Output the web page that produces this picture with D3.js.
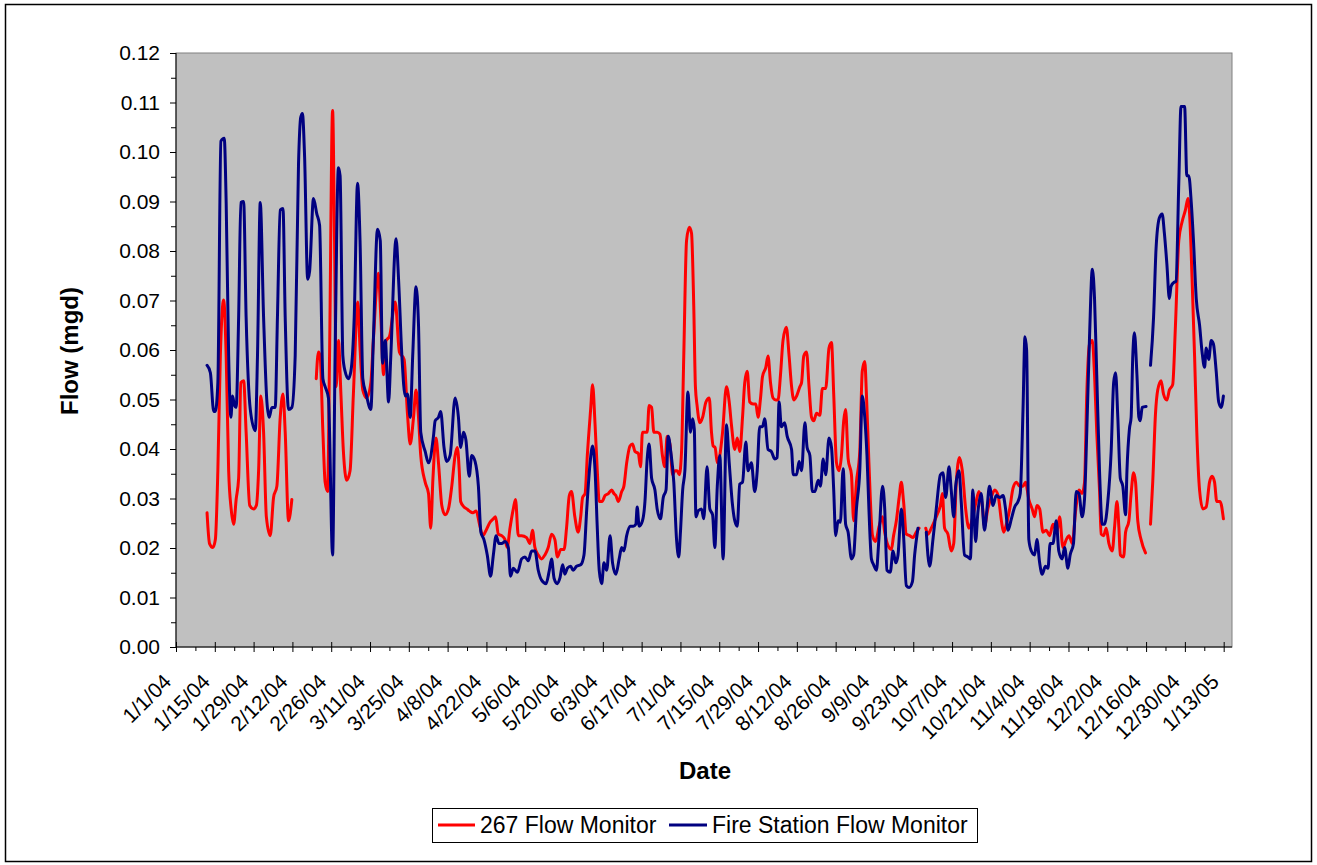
<!DOCTYPE html>
<html><head><meta charset="utf-8">
<script src="https://cdn.jsdelivr.net/npm/d3@7"></script>
<style>body{margin:0;background:#fff} text{font-family:"Liberation Sans",Arial,sans-serif;fill:#000}</style>
</head><body><svg id="c" width="1317" height="865"></svg>
<script>
// ---- data ----
const startDate = "2004-01-01";
const endDate = "2005-01-16";
const yTickValues = [0,0.01,0.02,0.03,0.04,0.05,0.06,0.07,0.08,0.09,0.10,0.11,0.12];
const seriesNames = ["267 Flow Monitor", "Fire Station Flow Monitor"];
const seriesColors = ["#FF0000", "#000080"];
// days since 1/1/04 (null = gap in record)
const m267Day = [11.2,12.1,13.3,14.2,15.1,16.0,17.2,18.1,19.0,19.9,20.8,21.7,22.6,23.4,24.4,25.3,26.6,28.0,29.0,29.8,30.6,31.6,32.6,34.0,35.2,36.4,37.6,38.6,39.4,40.6,41.8,null,
50.6,51.4,52.0,53.0,53.8,54.7,55.4,56.5,57.2,57.8,58.6,59.5,60.4,61.6,62.8,64.0,65.6,66.4,67.4,68.8,70.3,71.2,73.0,73.9,74.9,75.8,77.0,79.1,80.6,82.3,83.5,84.5,85.7,86.6,87.5,88.3,89.9,91.1,91.9,92.7,93.8,94.7,95.9,97.1,98.3,99.5,100.7,101.5,102.2,102.7,103.9,104.9,105.8,107.1,108.3,109.5,110.7,111.9,113.3,114.5,115.3,116.3,117.5,118.7,119.5,120.5,121.7,122.5,123.5,124.7,126.5,127.7,128.6,129.5,130.7,131.9,133.1,134.3,135.5,136.7,137.6,138.8,140.0,
140.9,141.9,142.7,143.9,145.1,146.0,146.7,147.6,148.4,149.6,150.3,151.2,152.0,152.7,153.7,154.8,156.0,157.2,158.0,158.7,159.6,160.8,161.6,162.6,163.8,164.7,165.6,166.8,167.6,168.3,169.2,170.0,170.7,171.6,172.4,173.6,174.6,175.5,176.4,177.2,178.2,179.2,180.0,180.8,181.6,182.4,183.2,184.2,185.2,186.0,186.8,187.4,188.0,189.0,190.0,191.2,192.4,193.2,193.8,194.5,195.3,196.2,197.2,198.6,199.6,200.4,201.6,202.5,203.4,204.4,205.2,206.1,207.0,208.2,209.2,210.0,210.9,211.6,212.8,213.6,214.5,215.4,216.4,217.2,218.1,219.0,220.2,221.2,222.1,222.9,223.9,225.1,225.7,226.5,227.5,228.4,229.3,230.1,231.1,232.3,233.2,
234.4,235.6,236.5,237.3,238.3,239.2,240.1,240.9,241.6,242.5,243.7,244.5,245.5,246.7,247.6,248.5,249.1,250.0,251.3,252.4,253.7,254.9,255.7,256.9,258.1,258.9,259.9,260.9,261.7,262.5,263.5,264.7,265.9,267.1,268.1,null,
270.5,271.3,272.5,273.7,274.9,275.8,276.5,277.3,278.5,279.7,280.6,281.5,282.7,283.7,284.9,286.1,287.5,288.7,289.7,290.9,291.7,292.9,294.1,295.4,296.6,297.8,298.6,299.6,300.8,302.0,303.2,304.4,305.6,306.5,307.7,308.9,309.8,310.6,311.6,312.8,314.0,315.2,316.4,317.8,318.8,320.0,321.2,322.2,323.4,324.5,325.8,326.9,
327.8,328.6,329.6,330.6,331.4,332.2,333.2,333.8,334.7,335.6,336.6,337.8,338.6,339.5,340.2,340.7,341.9,342.6,343.8,344.6,345.5,346.2,347.0,348.2,349.8,null,
351.6,352.4,353.4,354.2,355.4,356.3,357.5,358.4,359.6,360.6,361.8,363.0,364.2,365.1,365.7,366.6,367.5,368.3,369.3,370.5,371.7,372.9,373.8,374.7,375.5,376.7,377.9];
const m267Flow = [.0271,.0209,.0201,.0217,.0356,.0588,.0701,.0588,.0356,.0279,.0248,.0298,.0341,.0534,.0538,.0434,.0286,.0279,.0286,.0356,.0507,.0434,.0263,.0225,.0302,.0325,.0464,.0511,.0434,.0255,.0298,null,
.0542,.0596,.0588,.0434,.0333,.0314,.0588,.1084,.0821,.0526,.0619,.0511,.0395,.0337,.0356,.0511,.0697,.0604,.0519,.0503,.0534,.0619,.0755,.0666,.0550,.0619,.0627,.0697,.0596,.0581,.0472,.0410,.0464,.0519,.0464,.0387,.0333,.0310,.0240,.0340,.0422,.0372,.0286,.0267,.0279,.0325,.0387,.0403,.0356,.0294,.0283,.0279,.0275,.0271,.0275,.0248,.0225,.0236,.0252,.0259,.0263,.0228,.0225,.0217,.0201,.0240,.0279,.0298,.0225,.0225,.0221,.0209,.0236,.0201,.0186,.0178,.0186,.0201,.0228,.0217,.0182,.0197,.0197,
.0240,.0306,.0314,.0263,.0232,.0263,.0302,.0310,.0387,.0480,.0530,.0449,.0356,.0294,.0294,.0306,.0310,.0317,.0310,.0306,.0294,.0314,.0325,.0372,.0406,.0410,.0395,.0391,.0364,.0434,.0434,.0434,.0488,.0484,.0434,.0434,.0430,.0387,.0364,.0426,.0410,.0348,.0356,.0356,.0348,.0395,.0588,.0821,.0848,.0836,.0690,.0526,.0488,.0453,.0464,.0495,.0503,.0434,.0406,.0403,.0372,.0387,.0434,.0526,.0495,.0449,.0399,.0422,.0395,.0464,.0534,.0557,.0495,.0491,.0491,.0464,.0503,.0546,.0565,.0588,.0534,.0503,.0499,.0499,.0550,.0619,.0646,.0588,.0526,.0499,.0507,.0526,.0534,.0588,.0596,.0526,.0464,.0457,.0472,.0468,.0522,
.0522,.0604,.0615,.0511,.0372,.0356,.0387,.0457,.0480,.0380,.0348,.0255,.0333,.0395,.0557,.0577,.0511,.0372,.0225,.0213,.0244,.0263,.0232,.0205,.0197,.0225,.0255,.0302,.0333,.0294,.0228,.0225,.0221,.0232,.0240,null,
.0240,.0228,.0240,.0255,.0271,.0286,.0310,.0240,.0228,.0194,.0209,.0330,.0383,.0356,.0279,.0240,.0263,.0294,.0314,.0286,.0244,.0279,.0302,.0317,.0306,.0255,.0232,.0248,.0279,.0321,.0333,.0325,.0325,.0333,.0298,.0279,.0263,.0286,.0279,.0232,.0236,.0225,.0248,.0232,.0263,.0201,.0217,.0225,.0209,.0271,.0317,.0310,
.0333,.0511,.0612,.0619,.0550,.0434,.0317,.0228,.0225,.0240,.0209,.0194,.0240,.0294,.0240,.0186,.0182,.0232,.0255,.0310,.0352,.0333,.0255,.0217,.0190,null,
.0248,.0333,.0472,.0519,.0538,.0511,.0499,.0519,.0530,.0650,.0821,.0859,.0883,.0906,.0875,.0743,.0588,.0434,.0317,.0279,.0283,.0333,.0345,.0333,.0294,.0294,.0259];
const fireDay = [11.2,12.4,13.6,14.2,15.1,16.2,17.4,18.1,19.0,19.8,20.4,21.1,21.7,22.6,23.4,24.4,25.3,26.8,28.6,29.4,30.4,31.6,32.8,33.6,34.6,35.8,36.6,37.6,38.6,39.4,40.6,41.8,43.0,44.2,45.0,45.6,46.4,47.5,
48.2,49.6,50.8,51.8,53.0,53.8,55.0,56.5,57.4,58.6,59.2,60.2,61.0,62.2,63.1,64.3,65.5,66.4,67.4,68.6,70.3,71.2,72.7,73.7,74.5,75.5,76.7,77.5,79.4,80.3,81.5,82.7,83.5,84.5,85.4,86.6,87.5,88.3,89.9,91.1,92.9,
93.5,94.7,95.5,96.7,97.7,98.9,100.7,101.9,102.7,103.7,104.6,105.8,106.7,107.9,109.1,110.0,111.1,112.3,113.5,114.5,115.5,116.5,117.5,118.7,119.9,120.7,121.7,123.2,124.7,125.9,127.1,128.3,129.5,130.7,131.9,133.5,134.7,135.5,136.4,137.6,138.5,139.5,
140.3,141.2,142.4,143.3,144.5,146.0,147.2,148.2,149.4,150.3,151.2,152.0,152.7,153.6,154.4,155.4,156.6,157.5,158.7,159.9,160.8,161.6,162.6,163.8,165.0,165.9,166.4,167.1,168.3,169.2,170.0,170.7,171.6,172.8,173.6,174.8,175.8,176.8,177.6,178.5,179.6,180.6,181.4,182.0,182.8,183.6,184.7,185.6,186.4,187.0,
187.6,188.4,189.6,190.4,191.6,192.6,193.6,194.4,195.3,196.2,197.4,198.6,199.6,200.8,201.6,202.5,203.4,204.4,205.6,206.4,207.6,208.8,209.7,210.6,211.6,212.4,213.6,214.8,216.0,216.9,217.6,218.4,219.6,220.5,222.1,222.7,223.9,224.8,225.7,226.9,227.7,228.7,229.6,230.5,231.7,232.5,233.5,
234.4,235.6,236.5,237.3,238.0,238.9,239.7,240.7,241.6,242.5,243.7,244.5,245.5,246.7,247.6,248.5,249.3,250.0,250.9,251.7,252.7,253.6,254.9,255.7,256.5,257.7,258.7,259.7,260.5,261.7,262.5,263.5,264.5,265.7,266.5,267.7,null,
270.7,271.9,273.1,274.3,275.8,276.7,277.7,278.9,279.7,280.6,281.3,282.5,283.3,284.5,285.7,286.6,287.5,288.5,289.3,290.5,291.7,292.6,293.5,294.8,295.9,297.2,298.4,299.3,300.2,301.4,302.6,303.8,304.6,305.6,306.3,306.9,307.7,308.6,309.8,310.6,311.6,312.5,313.7,314.6,315.4,316.4,317.6,318.5,319.7,320.6,321.8,322.6,323.8,324.8,325.8,326.9,327.8,
328.6,329.6,330.6,331.4,332.2,333.2,334.2,335.0,336.2,337.4,338.3,339.0,339.8,340.7,341.6,342.6,343.1,344.0,344.6,345.2,345.8,346.7,347.4,347.9,348.6,350.0,null,
351.6,352.7,353.6,354.8,355.8,356.6,357.5,358.4,359.0,359.9,360.8,361.8,362.6,363.9,364.7,365.4,366.3,367.1,368.1,369.3,370.2,371.1,371.7,372.6,373.5,374.3,375.3,376.2,377.1,377.9];
const fireFlow = [.0569,.0554,.0476,.0476,.0534,.1022,.1028,.0898,.0588,.0464,.0507,.0488,.0484,.0666,.0898,.0900,.0666,.0480,.0437,.0588,.0898,.0666,.0495,.0464,.0484,.0484,.0666,.0883,.0886,.0666,.0480,.0484,.0588,.0975,.1070,.1078,.0990,.0743,
.0759,.0906,.0875,.0852,.0542,.0526,.0503,.0186,.0588,.0968,.0952,.0588,.0557,.0542,.0557,.0666,.0937,.0821,.0542,.0511,.0480,.0619,.0844,.0821,.0573,.0619,.0495,.0588,.0825,.0743,.0588,.0507,.0511,.0464,.0588,.0728,.0650,.0434,.0395,.0372,.0426,
.0457,.0464,.0476,.0403,.0375,.0387,.0503,.0464,.0403,.0434,.0418,.0345,.0387,.0375,.0325,.0232,.0217,.0186,.0143,.0186,.0225,.0209,.0209,.0213,.0201,.0143,.0159,.0151,.0178,.0182,.0174,.0194,.0194,.0155,.0135,.0128,.0155,.0178,.0139,.0128,.0139,.0166,
.0147,.0159,.0163,.0155,.0163,.0166,.0186,.0279,.0372,.0406,.0356,.0240,.0155,.0128,.0170,.0155,.0225,.0170,.0147,.0178,.0201,.0194,.0225,.0244,.0244,.0248,.0283,.0244,.0255,.0294,.0380,.0410,.0341,.0317,.0279,.0259,.0302,.0317,.0426,.0395,.0333,.0217,.0182,.0232,.0317,.0356,.0515,.0434,.0461,.0440,
.0263,.0275,.0279,.0259,.0364,.0279,.0267,.0201,.0325,.0387,.0178,.0449,.0372,.0286,.0255,.0244,.0329,.0333,.0414,.0356,.0372,.0314,.0356,.0445,.0445,.0461,.0399,.0395,.0380,.0383,.0495,.0445,.0453,.0426,.0399,.0348,.0348,.0375,.0356,.0453,.0403,.0387,.0314,.0314,.0337,.0325,.0380,
.0348,.0422,.0403,.0317,.0225,.0255,.0252,.0360,.0248,.0232,.0178,.0186,.0279,.0356,.0507,.0464,.0387,.0279,.0178,.0166,.0155,.0217,.0325,.0279,.0155,.0151,.0194,.0170,.0186,.0279,.0225,.0124,.0120,.0132,.0186,.0240,null,
.0232,.0163,.0217,.0279,.0348,.0352,.0302,.0364,.0317,.0263,.0325,.0356,.0294,.0186,.0182,.0178,.0317,.0213,.0271,.0310,.0236,.0279,.0325,.0286,.0306,.0302,.0306,.0279,.0236,.0259,.0283,.0294,.0310,.0480,.0627,.0600,.0217,.0194,.0186,.0217,.0170,.0147,.0163,.0159,.0209,.0209,.0255,.0194,.0178,.0201,.0159,.0186,.0209,.0314,.0310,.0263,.0300,
.0434,.0627,.0763,.0704,.0550,.0356,.0248,.0248,.0294,.0395,.0534,.0554,.0464,.0341,.0325,.0267,.0356,.0441,.0464,.0588,.0635,.0550,.0464,.0457,.0484,.0486,null,
.0569,.0666,.0805,.0867,.0875,.0836,.0774,.0704,.0728,.0736,.0739,.0937,.1092,.1092,.0952,.0952,.0898,.0821,.0704,.0650,.0596,.0565,.0604,.0581,.0619,.0612,.0557,.0495,.0484,.0507];

// ---- chart ----
const W = 1317, H = 865;
const plot = {left: 176, right: 1232, top: 53, bottom: 647};
const fontTick = 21, fontTitle = 24, fontLegend = 23;
const svg = d3.select("#c");
const t0 = Date.UTC(2004, 0, 1);
const dayToDate = d => new Date(t0 + d * 86400000);
const parse = d3.utcParse("%Y-%m-%d");

svg.append("rect").attr("width", W).attr("height", H).attr("fill", "#fff");
svg.append("rect").attr("x", 5.5).attr("y", 4.5).attr("width", 1306).attr("height", 857)
  .attr("fill", "none").attr("stroke", "#000").attr("stroke-width", 1.5);

const x = d3.scaleUtc().domain([parse(startDate), parse(endDate)]).range([plot.left, plot.right]);
const y = d3.scaleLinear().domain([0, 0.12]).range([plot.bottom, plot.top]);

svg.append("rect").attr("x", plot.left).attr("y", plot.top)
  .attr("width", plot.right - plot.left).attr("height", plot.bottom - plot.top)
  .attr("fill", "#C0C0C0").attr("stroke", "#808080").attr("stroke-width", 1);

// series
function toPoints(days, flows) {
  return days.map((d, i) => ({d: d == null ? null : dayToDate(d), v: flows[i]}));
}
const line = d3.line().defined(p => p.v != null && p.d != null)
  .x(p => x(p.d)).y(p => y(p.v)).curve(d3.curveMonotoneX);
const series = [toPoints(m267Day, m267Flow), toPoints(fireDay, fireFlow)];
series.forEach((pts, i) => {
  svg.append("path").datum(pts).attr("d", line).attr("fill", "none")
    .attr("stroke", seriesColors[i]).attr("stroke-width", 3)
    .attr("stroke-linejoin", "round").attr("stroke-linecap", "round");
});

// x axis
const weekly = d3.range(0, 379, 7).map(dayToDate);
const major = weekly.filter((d, i) => i % 2 === 0);
const minor = weekly.filter((d, i) => i % 2 === 1);
const fmt = d3.utcFormat("%-m/%-d/%y");
svg.append("g").attr("transform", `translate(0,${plot.bottom})`)
  .call(d3.axisBottom(x).tickValues(minor).tickSize(4).tickFormat(""))
  .call(g => g.select(".domain").remove())
  .call(g => g.selectAll(".tick line").attr("stroke", "#000"));
const xa = svg.append("g").attr("transform", `translate(0,${plot.bottom})`)
  .call(d3.axisBottom(x).tickValues(major).tickSize(5).tickFormat(fmt))
  .call(g => g.select(".domain").attr("stroke", "#000").attr("d", `M${plot.left},0H${plot.right}`))
  .call(g => g.selectAll(".tick line").attr("y1", -5).attr("stroke", "#000"));
xa.selectAll(".tick text")
  .attr("x", 0).attr("y", 0).attr("dy", 0)
  .attr("text-anchor", "end")
  .attr("transform", "translate(-4,36) rotate(-45)")
  .style("font-size", fontTick + "px").attr("fill", "#000");

// y axis
const yMinor = d3.range(0.005, 0.12, 0.01);
svg.append("g").attr("transform", `translate(${plot.left},0)`)
  .call(d3.axisLeft(y).tickValues(yMinor).tickSize(5).tickFormat(""))
  .call(g => g.select(".domain").remove())
  .call(g => g.selectAll(".tick line").attr("stroke", "#000"));
const ya = svg.append("g").attr("transform", `translate(${plot.left},0)`)
  .call(d3.axisLeft(y).tickValues(yTickValues).tickSize(6).tickPadding(10).tickFormat(d3.format(".2f")))
  .call(g => g.select(".domain").attr("stroke", "#000").attr("d", `M0,${plot.top}V${plot.bottom}`))
  .call(g => g.selectAll(".tick line").attr("stroke", "#000"));
ya.selectAll(".tick text").style("font-size", fontTick + "px").attr("fill", "#000");

// titles
svg.append("text").attr("transform", "translate(78,351) rotate(-90)")
  .attr("text-anchor", "middle").style("font-size", fontTitle + "px").style("font-weight", "bold")
  .text("Flow (mgd)");
svg.append("text").attr("x", 705).attr("y", 779)
  .attr("text-anchor", "middle").style("font-size", fontTitle + "px").style("font-weight", "bold")
  .text("Date");

// legend
const lg = svg.append("g");
lg.append("rect").attr("x", 432.5).attr("y", 808.5).attr("width", 545).attr("height", 34)
  .attr("fill", "#fff").attr("stroke", "#000").attr("stroke-width", 1);
const legendX = [[438, 475, 480], [669, 707, 712]];
seriesNames.forEach((n, i) => {
  lg.append("line").attr("x1", legendX[i][0]).attr("x2", legendX[i][1]).attr("y1", 825).attr("y2", 825)
    .attr("stroke", seriesColors[i]).attr("stroke-width", 3);
  lg.append("text").attr("x", legendX[i][2]).attr("y", 833).style("font-size", fontLegend + "px").text(n);
});
</script></body></html>
